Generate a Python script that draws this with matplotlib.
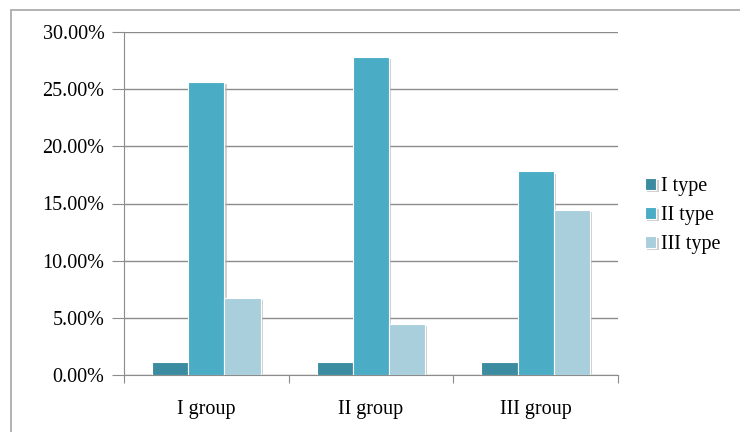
import matplotlib.pyplot as plt
import matplotlib.patheffects as pe
import numpy as np
from matplotlib.patches import Rectangle
from matplotlib.ticker import FuncFormatter

groups = ['I group', 'II group', 'III group']
series = ['I type', 'II type', 'III type']
type1 = [1.1, 1.1, 1.1]
type2 = [25.6, 27.8, 17.8]
type3 = [6.7, 4.5, 14.4]
colors = ['#3B8BA1', '#4BACC6', '#A9CEDC']

plt.rcParams['font.family'] = ['Liberation Serif', 'DejaVu Serif']

fig = plt.figure(figsize=(7.4, 4.32), dpi=100)
# outer chart frame
fig.patches.append(Rectangle((11 / 740, -0.1), 1.2, 422 / 432 + 0.1,
                             transform=fig.transFigure, fill=False,
                             edgecolor='#a6a6a6', linewidth=1.2))
ax = fig.add_axes([124 / 740, 1 - 375 / 432, (618 - 124) / 740, (375 - 32) / 432])

x = np.arange(len(groups))
w = 0.22
shadow = [pe.SimplePatchShadow(offset=(1.5, -1.5), shadow_rgbFace='#b0b0b0', alpha=0.6), pe.Normal()]
for i, (vals, name) in enumerate(zip([type1, type2, type3], series)):
    bars = ax.bar(x + (i - 1) * w, vals, w, color=colors[i], edgecolor='white',
                  linewidth=0.8, label=name, zorder=3)
    for b in bars:
        b.set_path_effects(shadow)

ax.set_ylim(0, 30)
ax.set_xlim(-0.5, 2.5)
ax.set_yticks(np.arange(0, 30.1, 5))
ax.yaxis.set_major_formatter(FuncFormatter(lambda v, p: f'{v:.2f}%'))
ax.grid(axis='y', color='#8c8c8c', linewidth=1.0, zorder=0)
ax.set_xticks([-0.5, 0.5, 1.5, 2.5])
ax.set_xticklabels([])
ax.set_xticks(x, minor=True)
ax.set_xticklabels(groups, minor=True, fontsize=14.5)
ax.tick_params(axis='x', which='minor', length=0, pad=18)
ax.tick_params(axis='x', which='major', length=6, color='#8c8c8c', direction='out')
ax.tick_params(axis='y', length=9, color='#8c8c8c', labelsize=14.5, pad=5)
for s in ['top', 'right']:
    ax.spines[s].set_visible(False)
for s in ['left', 'bottom']:
    ax.spines[s].set_color('#8c8c8c')

ax.legend(loc='center left', bbox_to_anchor=(1.035, 0.464), frameon=False, fontsize=14.5,
          handlelength=0.55, handleheight=0.55, handletextpad=0.25, labelspacing=0.5,
          borderpad=0)

fig.savefig('out.png', dpi=100)
